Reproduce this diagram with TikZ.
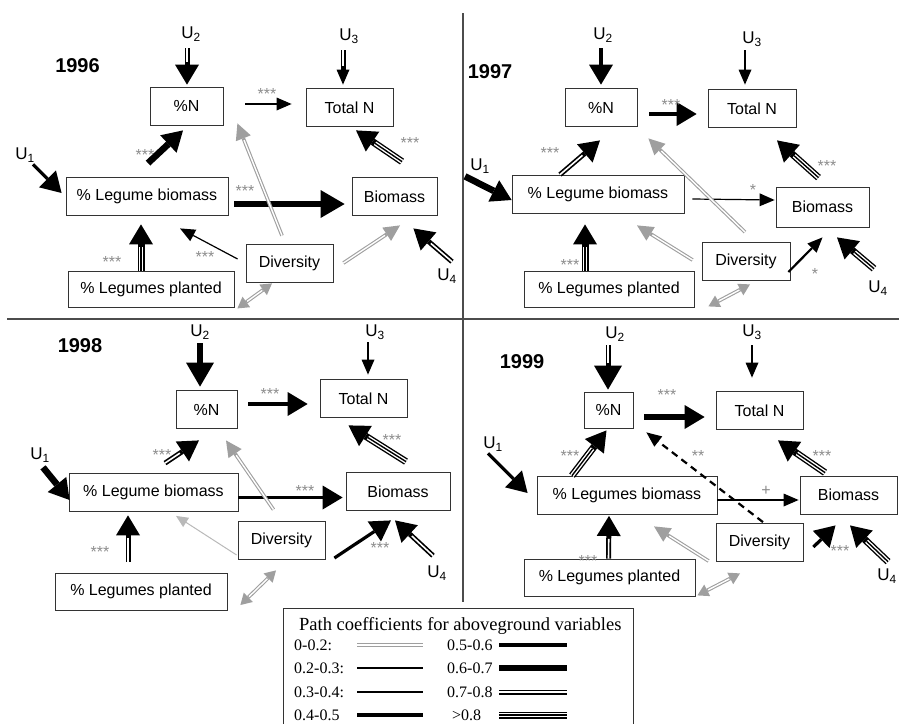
\documentclass[tikz,border=0pt]{standalone}
\usepackage{fontspec}
\setmainfont{Liberation Sans}
\newfontfamily\legfont{Liberation Serif}
\usetikzlibrary{arrows.meta}
\begin{document}
\begin{tikzpicture}[x=1pt,y=-1pt,
  box/.style={draw=black!80,line width=0.8pt,minimum height=38pt,inner sep=0pt,font=\fontsize{16}{18}\selectfont},
  ulab/.style={inner sep=1pt,font=\fontsize{17}{19}\selectfont},
  yr/.style={font=\fontsize{20}{22}\selectfont\bfseries},
  stars/.style={inner sep=0pt,text=gray!90,font=\fontsize{16}{16}\selectfont},
  hbig/.style={-{Triangle[length=20pt,width=24pt,line width=0pt]}},
  hhuge/.style={-{Triangle[length=24pt,width=28pt,line width=0pt]}},
  hmid/.style={-{Triangle[length=15pt,width=13pt,line width=0pt]}},
  hgray/.style={-{Triangle[length=16pt,width=16pt,line width=0pt]}},
  hgraysm/.style={-{Triangle[length=12pt,width=11pt,line width=0pt]}},
  l01/.style={draw=gray!55,line width=1pt},
  l02/.style={draw=gray!75,line width=3.6pt,postaction={draw=white,line width=1.4pt,-,#1}},
  l02/.default={},
  l03/.style={draw,line width=1.2pt},
  l04/.style={draw,line width=2.2pt},
  l05/.style={draw,line width=3.2pt},
  l06/.style={draw,line width=4.8pt},
  l07/.style={draw,line width=6.6pt},
  l08/.style={draw,line width=5pt,postaction={draw=white,line width=1.6pt,-,#1}},
  l08/.default={},
  l09/.style={draw,line width=7pt,postaction={draw=white,line width=4.2pt,-,#1},postaction={draw,line width=1.4pt,-,#1}},
  l09/.default={},
  a02/.style={l02={shorten >=18pt},hgray},
  a08/.style={l08={shorten >=#1}},
  a08/.default=23pt,
  a09/.style={l09={shorten >=23pt}},
  d02/.style={l02={shorten >=12pt,shorten <=12pt},arrows={Triangle[length=11pt,width=13pt,line width=0pt]-Triangle[length=11pt,width=13pt,line width=0pt]}}
]
\useasboundingbox (0,0) rectangle (899,723);
\draw[black!70,line width=1.2pt] (7,319) -- (899,319);
\draw[black!70,line width=1.2pt] (463,13) -- (463,602);

\node[yr] (y96) at (77.5,66) {1996};
\node[box,minimum width=73pt] (pn96) at (186.5,106) {\%N};
\node[box,minimum width=87pt] (tn96) at (349.5,107.5) {Total N};
\node[box,minimum width=162pt] (lb96) at (147,196.5) {\% Legume biomass};
\node[box,minimum width=85pt] (bm96) at (394.5,196.5) {Biomass};
\node[box,minimum width=87pt] (dv96) at (289.5,263.5) {Diversity};
\node[box,minimum width=166pt,minimum height=36pt] (lp96) at (151,289) {\% Legumes planted};
\node[ulab] (u96a) at (25,155) {U\textsubscript{1}};
\node[ulab] (u96b) at (191,34) {U\textsubscript{2}};
\node[ulab] (u96c) at (349,36) {U\textsubscript{3}};
\node[ulab] (u96d) at (447,276) {U\textsubscript{4}};
\draw[a08,hbig] ([shift={(-4,6)}]u96b.south) -- ([shift={(0.5,-2)}]pn96.north);
\draw[a08=19pt,hmid] ([shift={(-6,6)}]u96c.south) -- ([shift={(-6.5,-3.5)}]tn96.north);
\draw[l04,hmid] ([shift={(22,-2)}]pn96.east) -- ([shift={(-14,-3.5)}]tn96.west);
\draw[l07,hbig] ([shift={(1,-14)}]lb96.north) -- ([shift={(-3.5,5)}]pn96.south);
\draw[l07,hhuge] ([shift={(6,7.5)}]lb96.east) -- ([shift={(-7,7.5)}]bm96.west);
\draw[a09,hbig] ([shift={(7.5,-15.5)}]bm96.north) -- ([shift={(6.5,3.5)}]tn96.south);
\draw[a02] ([shift={(-7.5,-8.5)}]dv96.north) -- ([shift={(14,-2)}]pn96.south east);
\draw[l03,hmid] ([shift={(-8,-4.5)}]dv96.west) -- ([shift={(33,12.5)}]lb96.south);
\draw[a02] ([shift={(10,-0.5)}]dv96.east) -- ([shift={(5.5,9.5)}]bm96.south);
\draw[a08,hbig] ([shift={(5,-6)}]u96d.north) -- ([shift={(-24,12.5)}]bm96.south east);
\draw[l05,hbig] ([shift={(8,1)}]u96a.south) -- ([shift={(-4,-3.5)}]lb96.west);
\draw[a09,hbig] ([shift={(-10,0)}]lp96.north) -- ([shift={(-6,8.5)}]lb96.south);
\draw[d02] ([shift={(3,1)}]lp96.south east) -- ([shift={(-17.5,0.5)}]dv96.south);
\node[stars] (s96a) at (267,94) {***};
\node[stars] (s96b) at (145,155) {***};
\node[stars] (s96c) at (245,191) {***};
\node[stars] (s96d) at (410,143) {***};
\node[stars] (s96e) at (205,257) {***};
\node[stars] (s96f) at (112,262) {***};

\node[yr] (y97) at (490,72) {1997};
\node[box,minimum width=72pt] (pn97) at (601,107.5) {\%N};
\node[box,minimum width=88pt] (tn97) at (752,108.5) {Total N};
\node[box,minimum width=172pt] (lb97) at (598,194) {\% Legume biomass};
\node[box,minimum width=93pt,minimum height=40pt] (bm97) at (822.5,207) {Biomass};
\node[box,minimum width=88pt] (dv97) at (746,261.5) {Diversity};
\node[box,minimum width=170pt,minimum height=36pt] (lp97) at (609,289) {\% Legumes planted};
\node[ulab] (u97a) at (480,166) {U\textsubscript{1}};
\node[ulab] (u97b) at (603,35) {U\textsubscript{2}};
\node[ulab] (u97c) at (752,39) {U\textsubscript{3}};
\node[ulab] (u97d) at (878,288) {U\textsubscript{4}};
\draw[l05,hbig] ([shift={(-2,5)}]u97b.south) -- ([shift={(0,-3.5)}]pn97.north);
\draw[l04,hmid] ([shift={(-7,3)}]u97c.south) -- ([shift={(-7,-4.5)}]tn97.north);
\draw[l06,hbig] ([shift={(12,6.5)}]pn97.east) -- ([shift={(-11,5.5)}]tn97.west);
\draw[l07,hbig] ([shift={(-15,2)}]u97a.south) -- ([shift={(0,6)}]lb97.west);
\draw[a08,hbig] ([shift={(-38,0)}]lb97.north) -- ([shift={(-1,13.5)}]pn97.south);
\draw[l03,hmid] ([shift={(8,5)}]lb97.east) -- ([shift={(-1,-7)}]bm97.west);
\draw[a09,hbig] ([shift={(-4,-9)}]bm97.north) -- ([shift={(25,12.5)}]tn97.south);
\draw[a02] ([shift={(-1,-10)}]dv97.north) -- ([shift={(11,11.5)}]pn97.south east);
\draw[a02] ([shift={(-9,-1.5)}]dv97.west) -- ([shift={(39,12)}]lb97.south);
\draw[l04,hmid] ([shift={(-2,10.5)}]dv97.east) -- ([shift={(0,10)}]bm97.south);
\draw[a09,hbig] ([shift={(-4,-11)}]u97d.north) -- ([shift={(14.5,10)}]bm97.south);
\draw[a09,hbig] ([shift={(-24,0)}]lp97.north) -- ([shift={(-13,11)}]lb97.south);
\draw[d02] ([shift={(14,-1)}]lp97.south east) -- ([shift={(4,3.5)}]dv97.south);
\node[stars] (s97a) at (671,105) {***};
\node[stars] (s97b) at (550,153) {***};
\node[stars] (s97c) at (753,190) {*};
\node[stars] (s97d) at (827,166) {***};
\node[stars] (s97e) at (815,274) {*};
\node[stars] (s97f) at (570,265) {***};

\node[yr] (y98) at (80,346) {1998};
\node[box,minimum width=61pt] (pn98) at (206.5,409.5) {\%N};
\node[box,minimum width=87pt] (tn98) at (363.5,398.5) {Total N};
\node[box,minimum width=169pt] (lb98) at (153.5,492.5) {\% Legume biomass};
\node[box,minimum width=104pt] (bm98) at (398,491.5) {Biomass};
\node[box,minimum width=87pt] (dv98) at (281.5,540) {Diversity};
\node[box,minimum width=172pt,minimum height=37pt] (lp98) at (141,591.5) {\% Legumes planted};
\node[ulab] (u98a) at (40,455) {U\textsubscript{1}};
\node[ulab] (u98b) at (200,332) {U\textsubscript{2}};
\node[ulab] (u98c) at (375,332) {U\textsubscript{3}};
\node[ulab] (u98d) at (437,573) {U\textsubscript{4}};
\draw[l07,hhuge] ([shift={(0,3)}]u98b.south) -- ([shift={(-6.5,-3.5)}]pn98.north);
\draw[l04,hmid] ([shift={(-7,2)}]u98c.south) -- ([shift={(4.5,-4.5)}]tn98.north);
\draw[l05,hbig] ([shift={(11,-5.5)}]pn98.east) -- ([shift={(-12,5.5)}]tn98.west);
\draw[l07,hbig] ([shift={(3,4)}]u98a.south) -- ([shift={(1,7.5)}]lb98.west);
\draw[a08,hbig] ([shift={(11.5,-10)}]lb98.north) -- ([shift={(-7.5,11.5)}]pn98.south);
\draw[l05,hbig] ([shift={(0,5)}]lb98.east) -- ([shift={(-3,6)}]bm98.west);
\draw[a09,hbig] ([shift={(8,-10.5)}]bm98.north) -- ([shift={(-15,7.5)}]tn98.south);
\draw[a02] ([shift={(-8,-11)}]dv98.north) -- ([shift={(19.5,11.5)}]pn98.south);
\draw[l01,hgraysm] ([shift={(-1,15)}]dv98.west) -- ([shift={(22.5,4)}]lb98.south);
\draw[l05,hbig] ([shift={(9,18)}]dv98.east) -- ([shift={(-7,9.5)}]bm98.south);
\draw[a08,hbig] ([shift={(-4,-9)}]u98d.north) -- ([shift={(-3,9.5)}]bm98.south);
\draw[a08,hbig] ([shift={(-13,-11)}]lp98.north) -- ([shift={(-25.5,3.5)}]lb98.south);
\draw[d02] ([shift={(13,13.5)}]lp98.east) -- ([shift={(-5.5,11)}]dv98.south);
\node[stars] (s98a) at (270,394) {***};
\node[stars] (s98b) at (162,455) {***};
\node[stars] (s98c) at (305,491) {***};
\node[stars] (s98d) at (392,440) {***};
\node[stars] (s98e) at (380,548) {***};
\node[stars] (s98f) at (100,552) {***};

\node[yr] (y99) at (522,362) {1999};
\node[box,minimum width=49pt,minimum height=36pt] (pn99) at (608.5,410) {\%N};
\node[box,minimum width=87pt] (tn99) at (759.5,410.5) {Total N};
\node[box,minimum width=180pt] (lb99) at (627,495) {\% Legumes biomass};
\node[box,minimum width=97pt] (bm99) at (848.5,495) {Biomass};
\node[box,minimum width=87pt] (dv99) at (759.5,542.5) {Diversity};
\node[box,minimum width=171pt,minimum height=37pt] (lp99) at (609.5,577.5) {\% Legumes planted};
\node[ulab] (u99a) at (493,444) {U\textsubscript{1}};
\node[ulab] (u99b) at (615,334) {U\textsubscript{2}};
\node[ulab] (u99c) at (752,332) {U\textsubscript{3}};
\node[ulab] (u99d) at (887,576) {U\textsubscript{4}};
\draw[a08=27pt,hhuge] ([shift={(-7,3)}]u99b.south) -- ([shift={(-0.5,-2)}]pn99.north);
\draw[l04,hmid] ([shift={(0,5)}]u99c.south) -- ([shift={(-7.5,-13.5)}]tn99.north);
\draw[l07,hbig] ([shift={(11,7)}]pn99.east) -- ([shift={(-11,6.5)}]tn99.west);
\draw[l05,hbig] ([shift={(-5,1)}]u99a.south) -- ([shift={(-9,-2)}]lb99.west);
\draw[a09,hbig] ([shift={(-55,0)}]lb99.north) -- ([shift={(-2,2)}]pn99.south);
\draw[l03,hmid] ([shift={(0,5)}]lb99.east) -- ([shift={(-1,5)}]bm99.west);
\draw[a09,hbig] ([shift={(-23.5,-3)}]bm99.north) -- ([shift={(18.5,10.5)}]tn99.south);
\draw[l04,dash pattern=on 7pt off 5pt,hmid] ([shift={(3.5,-1)}]dv99.north) -- ([shift={(13,4)}]pn99.south east);
\draw[a02] ([shift={(-7,18.5)}]dv99.west) -- ([shift={(27,12)}]lb99.south);
\draw[l05,hbig] ([shift={(10,4.5)}]dv99.east) -- ([shift={(-13,11)}]bm99.south);
\draw[a09,hbig] ([shift={(1,-6)}]u99d.north) -- ([shift={(1.5,11)}]bm99.south);
\draw[a08,hbig] ([shift={(-1,0)}]lp99.north) -- ([shift={(-18,1.5)}]lb99.south);
\draw[d02] ([shift={(2,-1)}]lp99.south east) -- ([shift={(-19.5,11.5)}]dv99.south);
\node[stars] (s99a) at (667,395) {***};
\node[stars] (s99b) at (570,456) {***};
\node[stars] (s99c) at (766,491) {+};
\node[stars] (s99d) at (822,456) {***};
\node[stars] (s99e) at (698,456) {**};
\node[stars] (s99f) at (840,551) {***};
\node[stars] (s99g) at (588,561) {***};

\draw[black!80,line width=0.8pt] (283,608) rectangle (633,735);
\node[anchor=west,inner sep=0pt,font=\legfont\fontsize{18.5}{20}\selectfont] (ktitle) at (299,626) {Path coefficients for aboveground variables};
\node[anchor=west,inner sep=0pt,font=\legfont\fontsize{16}{18}\selectfont] (k1) at (294,645) {0-0.2:};
\node[anchor=west,inner sep=0pt,font=\legfont\fontsize{16}{18}\selectfont] (k2) at (294,668) {0.2-0.3:};
\node[anchor=west,inner sep=0pt,font=\legfont\fontsize{16}{18}\selectfont] (k3) at (294,692) {0.3-0.4:};
\node[anchor=west,inner sep=0pt,font=\legfont\fontsize{16}{18}\selectfont] (k4) at (294,715) {0.4-0.5};
\node[anchor=west,inner sep=0pt,font=\legfont\fontsize{16}{18}\selectfont] (k5) at (447,645) {0.5-0.6};
\node[anchor=west,inner sep=0pt,font=\legfont\fontsize{16}{18}\selectfont] (k6) at (447,668) {0.6-0.7};
\node[anchor=west,inner sep=0pt,font=\legfont\fontsize{16}{18}\selectfont] (k7) at (447,692) {0.7-0.8};
\node[anchor=west,inner sep=0pt,font=\legfont\fontsize{16}{18}\selectfont] (k8) at (452,715) {>0.8};
\draw[l02] (357,645) -- (423,645);
\draw[l03] (357,668) -- (423,668);
\draw[l04] (357,692) -- (423,692);
\draw[l05] (357,715) -- (423,715);
\draw[l06] (499,645) -- (567,645);
\draw[l07] (499,668) -- (567,668);
\draw[l08] (499,692) -- (567,692);
\draw[l09] (499,715) -- (567,715);
\end{tikzpicture}
\end{document}
